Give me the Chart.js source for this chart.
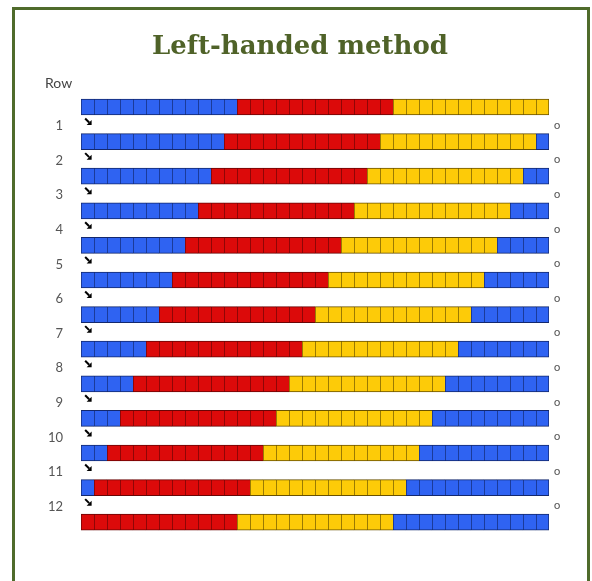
<!DOCTYPE html>
<html>
<head>
<meta charset="utf-8">
<script src="https://cdn.jsdelivr.net/npm/chart.js@4.4.1/dist/chart.umd.min.js"></script>
<style>
html,body{margin:0;padding:0;background:#fff;}
#wrap{position:relative;width:592px;height:581px;overflow:hidden;}
#frame{position:absolute;left:12px;top:7px;width:572px;height:600px;border:3px solid #4f6b2b;box-sizing:content-box;}
canvas{position:absolute;left:0;top:0;}
</style>
</head>
<body>
<div id="wrap">
<div id="frame"></div>
<canvas id="c" width="592" height="581"></canvas>
</div>
<script>
// ---- data ----
const titleText = 'Left-handed method';
const axisTitle = 'Row';
const rowTickLabels = ['1','2','3','4','5','6','7','8','9','10','11','12'];
const leadBlue   = [12,11,10,9,8,7,6,5,4,3,2,1,0];
const redCells   = [12,12,12,12,12,12,12,12,12,12,12,12,12];
const yellowCells= [12,12,12,12,12,12,12,12,12,12,12,12,12];
const trailBlue  = [0,1,2,3,4,5,6,7,8,9,10,11,12];
const arrowRows  = [0,1,2,3,4,5,6,7,8,9,10,11];
const circleRows = [0,1,2,3,4,5,6,7,8,9,10,11];

const COLORS = {
  blue:   {fill:'#2f63f2', border:'#13286e'},
  red:    {fill:'#dc0a0a', border:'#6a0505'},
  yellow: {fill:'#fdcb08', border:'#6a5200'}
};

function cellKind(row, j){
  const a = leadBlue[row], b = a + redCells[row], c = b + yellowCells[row];
  if (j < a) return 'blue';
  if (j < b) return 'red';
  if (j < c) return 'yellow';
  return 'blue';
}
const totalCells = leadBlue[0] + redCells[0] + yellowCells[0] + trailBlue[0];
const nRows = leadBlue.length;

const datasets = [];
for (let j = 0; j < totalCells; j++) {
  datasets.push({
    data: leadBlue.map((_, i) => ({x:[j, j+1], y:i})),
    backgroundColor: ctx => COLORS[cellKind(ctx.dataIndex, j)].fill,
    borderColor: ctx => COLORS[cellKind(ctx.dataIndex, j)].border,
    borderWidth: {left:1, top:1, bottom:1, right: j === totalCells-1 ? 1 : 0},
    borderSkipped: false,
    barThickness: 16,
    grouped: false
  });
}

const extras = {
  id:'extras',
  afterDraw(chart){
    const {ctx, scales:{x, y}} = chart;
    ctx.save();
    // title
    ctx.fillStyle = '#4f6228';
    ctx.font = 'bold 26px "DejaVu Serif"';
    ctx.textAlign = 'center';
    ctx.textBaseline = 'middle';
    ctx.fillText(titleText, 300, 47);
    // axis title
    ctx.fillStyle = '#444';
    ctx.font = '14px Lato';
    ctx.textAlign = 'left';
    ctx.fillText(axisTitle, 45, 83);
    // row labels (between bars)
    ctx.fillStyle = '#555';
    ctx.font = '13px Lato';
    ctx.textAlign = 'right';
    rowTickLabels.forEach((lab, i) => {
      ctx.fillText(lab, x.getPixelForValue(0) - 18, y.getPixelForValue(i + 0.55));
    });
    // arrows (bold down-right arrows)
    ctx.fillStyle = '#000';
    ctx.strokeStyle = '#000';
    ctx.lineWidth = 2;
    arrowRows.forEach(r => {
      const cx = x.getPixelForValue(0.55), cy = y.getPixelForValue(r + 0.42);
      ctx.beginPath();
      ctx.moveTo(cx - 3, cy - 3);
      ctx.lineTo(cx + 1, cy + 1);
      ctx.stroke();
      ctx.beginPath();
      ctx.moveTo(cx + 3.5, cy - 1.5);
      ctx.lineTo(cx + 3.5, cy + 3.5);
      ctx.lineTo(cx - 1.5, cy + 3.5);
      ctx.closePath();
      ctx.fill();
    });
    // circles
    ctx.fillStyle = '#555';
    ctx.font = '11px "DejaVu Sans"';
    ctx.textAlign = 'center';
    circleRows.forEach(r => {
      ctx.fillText('o', x.getPixelForValue(totalCells) + 8, y.getPixelForValue(r + 0.55));
    });
    ctx.restore();
  }
};

const TARGET_TOP = 89.7, TARGET_BOTTOM = 539.5;
const chart = new Chart(document.getElementById('c'), {
  type:'bar',
  data:{datasets},
  options:{
    indexAxis:'y',
    responsive:false,
    animation:false,
    layout:{padding:{left:81, right:43, top:90, bottom:41}},
    plugins:{legend:{display:false}, tooltip:{enabled:false}, title:{display:false}},
    scales:{
      x:{type:'linear', min:0, max:totalCells, display:false, offset:false},
      y:{type:'linear', reverse:true, min:-0.5, max:nRows-0.5, display:false, offset:false, grace:0}
    }
  },
  plugins:[extras]
});
// fine-tune the plot area so that the row band spans the same pixels as the reference
for (let k = 0; k < 3; k++) {
  const ys = chart.scales.y;
  const p0 = ys.getPixelForValue(-0.5), p1 = ys.getPixelForValue(nRows - 0.5);
  const pad = chart.options.layout.padding;
  pad.top += TARGET_TOP - p0;
  pad.bottom += p1 - TARGET_BOTTOM;
  chart.update('none');
}
</script>
</body>
</html>
